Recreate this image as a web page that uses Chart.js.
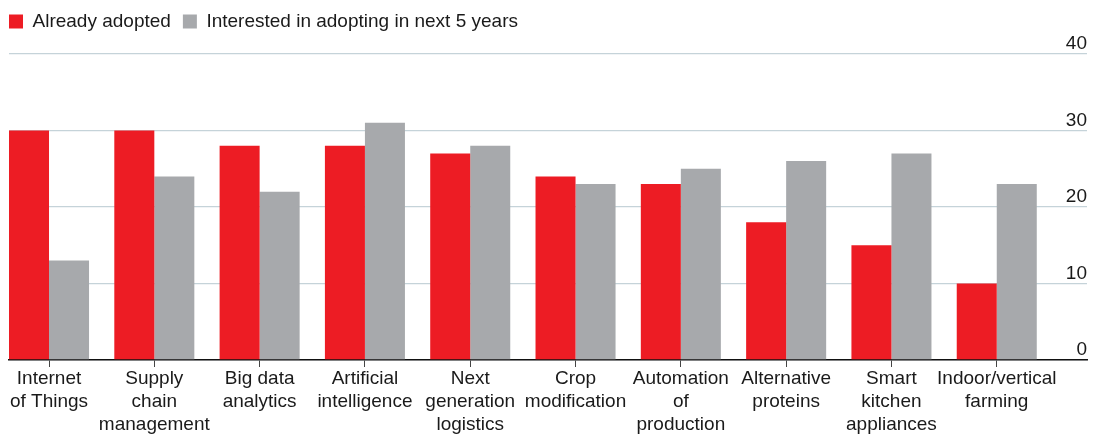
<!DOCTYPE html>
<html>
<head>
<meta charset="utf-8">
<title>Technology adoption</title>
<script src="https://cdn.jsdelivr.net/npm/chart.js@4.4.1/dist/chart.umd.min.js"></script>
<style>
    html, body { margin: 0; padding: 0; background: #fff; }
    #wrap { width: 1104px; height: 436px; position: relative; }
</style>
</head>
<body>
<div id="wrap"><canvas id="adoptionChart"></canvas></div>
<script>
const CATEGORIES = [
    ["Internet", "of Things"],
    ["Supply", "chain", "management"],
    ["Big data", "analytics"],
    ["Artificial", "intelligence"],
    ["Next", "generation", "logistics"],
    ["Crop", "modification"],
    ["Automation", "of", "production"],
    ["Alternative", "proteins"],
    ["Smart", "kitchen", "appliances"],
    ["Indoor/vertical", "farming"]
];
const ADOPTED = [30, 30, 28, 28, 27, 24, 23, 18, 15, 10];
const INTERESTED = [13, 24, 22, 31, 28, 23, 25, 26, 27, 23];
const Y_TICKS = [0, 10, 20, 30, 40];

const RED = "#ed1c24";
const GREY = "#a7a9ac";
const FONT = "'Liberation Sans', Arial, sans-serif";

// bars sit on a numeric x axis so the plot can start flush with the first bar
const toPoints = values => values.map((y, i) => ({ x: i, y }));

// extra room under the legend, and pull the first key to the left edge
const legendSpacing = {
    id: "legendSpacing",
    beforeInit(chart) {
        const fit = chart.legend.fit;
        chart.legend.fit = function () {
            fit.call(this);
            this.height = 54;
        };
    },
    afterLayout(chart) {
        chart.legend.left -= chart.legend.options.labels.padding;
    }
};

const ctx = document.getElementById("adoptionChart").getContext("2d");
const chart = new Chart(ctx, {
    type: "bar",
    data: {
        datasets: [{
            label: "Already adopted",
            data: toPoints(ADOPTED),
            backgroundColor: RED
        }, {
            label: "Interested in adopting in next 5 years",
            data: toPoints(INTERESTED),
            backgroundColor: GREY
        }]
    },
    options: {
        responsive: true,
        maintainAspectRatio: false,
        animation: false,
        categoryPercentage: 0.76,
        barPercentage: 1,
        layout: { padding: { left: 9, right: 17, top: 0, bottom: 0 } },
        plugins: {
            tooltip: { enabled: false },
            legend: {
                position: "top",
                align: "start",
                labels: {
                    boxWidth: 14,
                    boxHeight: 14,
                    padding: 12,
                    color: "#1a1a1a",
                    font: { family: FONT, size: 19 }
                }
            }
        },
        scales: {
            x: {
                type: "linear",
                offset: false,
                min: -0.38,
                max: 9.857,
                afterBuildTicks: scale => {
                    scale.ticks = CATEGORIES.map((_, i) => ({ value: i }));
                },
                afterFit: scale => { scale.height = 76; },
                ticks: {
                    autoSkip: false,
                    maxRotation: 0,
                    padding: 0,
                    color: "#1a1a1a",
                    font: { family: FONT, size: 19, lineHeight: "23px" },
                    callback: value => CATEGORIES[value]
                },
                grid: {
                    offset: false,
                    drawOnChartArea: false,
                    tickLength: 7,
                    tickColor: "#444",
                    tickWidth: 1
                },
                border: { display: true, color: "#111", width: 1.5 }
            },
            y: {
                position: "right",
                min: 0,
                max: 40,
                afterBuildTicks: scale => {
                    scale.ticks = Y_TICKS.map(value => ({ value }));
                },
                afterFit: scale => { scale.width = 0; },
                ticks: {
                    mirror: true,
                    padding: 0,
                    labelOffset: -10,
                    color: "#1a1a1a",
                    font: { family: FONT, size: 19 }
                },
                grid: {
                    color: "#c5d3d9",
                    lineWidth: 1.3,
                    drawTicks: false
                },
                border: { display: false }
            }
        }
    },
    plugins: [legendSpacing]
});
</script>
</body>
</html>
